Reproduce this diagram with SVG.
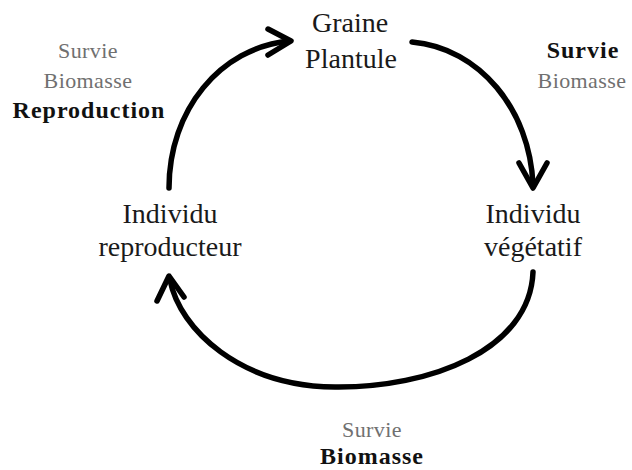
<svg xmlns="http://www.w3.org/2000/svg" width="632" height="470" viewBox="0 0 632 470">
<style>
.n{font-family:"Liberation Serif","Times New Roman",serif;font-size:28px;fill:#1a1a1a;text-anchor:middle}
.g{font-family:"Liberation Serif","Times New Roman",serif;font-size:22px;letter-spacing:0.4px;fill:#707070;text-anchor:middle}
.b{font-family:"Liberation Serif","Times New Roman",serif;font-size:24px;letter-spacing:1px;font-weight:bold;fill:#111;text-anchor:middle}
.c{fill:none;stroke:#000;stroke-width:5.5;stroke-linecap:round;stroke-linejoin:round}
</style>
<rect width="632" height="470" fill="#fff"/>
<g id="connectors">
<path class="c" d="M169,188 C169,110 220,48 289,41"/>
<polyline class="c" points="268,29 291,41 268,55"/>
<path class="c" d="M412,42 C480,48 530,110 533,185"/>
<polyline class="c" points="519,163 533,188 547,163"/>
<path class="c" d="M533,272 C530,350 430,388 335,387 C240,386 180,330 170,280"/>
<polyline class="c" points="157,301 169,276 184,297"/>
</g>
<g id="node-graine">
<text class="n" x="350" y="32">Graine</text>
<text class="n" x="351" y="68">Plantule</text>
</g>
<g id="node-vegetatif">
<text class="n" x="533" y="223">Individu</text>
<text class="n" x="533" y="256">végétatif</text>
</g>
<g id="node-reproducteur">
<text class="n" x="170" y="223">Individu</text>
<text class="n" x="170" y="256">reproducteur</text>
</g>
<g id="label-topleft">
<text class="g" x="88" y="58">Survie</text>
<text class="g" x="88" y="88">Biomasse</text>
<text class="b" x="89" y="118">Reproduction</text>
</g>
<g id="label-topright">
<text class="b" x="583" y="58">Survie</text>
<text class="g" x="582" y="88">Biomasse</text>
</g>
<g id="label-bottom">
<text class="g" x="372" y="437">Survie</text>
<text class="b" x="372" y="464">Biomasse</text>
</g>
</svg>
